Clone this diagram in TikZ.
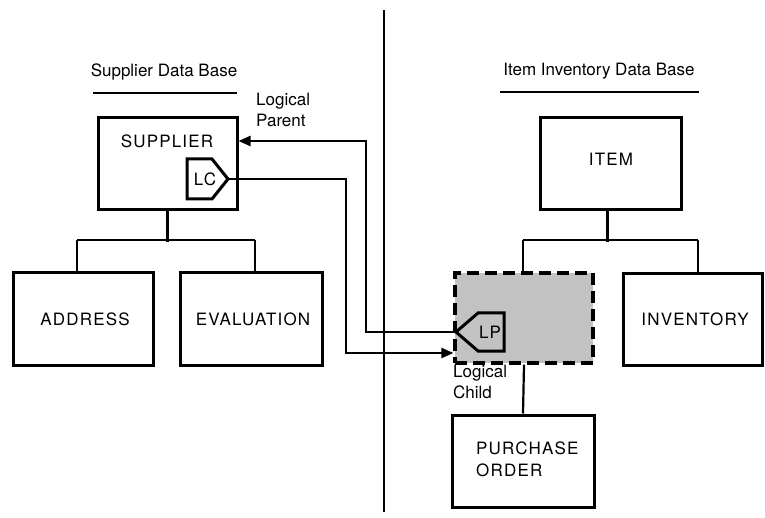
\documentclass[tikz,border=0pt]{standalone}
\usepackage{fontspec}
\setmainfont{TeX Gyre Heros}
\newfontfamily\capsface[LetterSpace=7]{TeX Gyre Heros}
\usetikzlibrary{arrows.meta}
\tikzset{
  seg/.style={draw, line width=3pt, inner sep=0pt},
  dashseg/.style={draw, line width=3.2pt, dash pattern=on 12pt off 6pt, fill=black!24, inner sep=0pt},
  link/.style={line width=2.2pt},
  ptr/.style={link, -{Triangle[length=12pt,width=10pt]}},
  lbl/.style={inner sep=0pt, font=\fontsize{17}{21}\selectfont},
  caps/.style={inner sep=0pt, font=\capsface\fontsize{17}{22}\selectfont},
  pent/.style={line width=3pt, line join=miter},
}
\begin{document}
\begin{tikzpicture}[x=1pt,y=-1pt]
  \useasboundingbox (0,0) rectangle (765,518);

  % divider between the two data bases
  \coordinate (divtop) at (384,10);
  \coordinate (divbot) at (384,512);
  \draw[line width=1.6pt] (divtop) -- (divbot);

  % titles
  \node[lbl] (suptitle) at (164,72) {Supplier Data Base};
  \coordinate (supulA) at (93,93);
  \coordinate (supulB) at (237,93);
  \draw[line width=1.4pt] (supulA) -- (supulB);
  \node[lbl] (itmtitle) at (599,71) {Item Inventory Data Base};
  \coordinate (itmulA) at (500,92);
  \coordinate (itmulB) at (699,92);
  \draw[line width=1.4pt] (itmulA) -- (itmulB);

  % supplier data base segments
  \node[seg, minimum width=139pt, minimum height=92pt] (supplier) at (167.5,163.5) {};
  \node[caps] (suptext) at (167,141) {SUPPLIER};
  \node[seg, minimum width=140pt, minimum height=92pt] (address) at (83,319) {};
  \node[caps] at (85,319) {ADDRESS};
  \node[seg, minimum width=142pt, minimum height=92pt] (evaluation) at (251,319) {};
  \node[caps] at (253,319) {EVALUATION};

  % item inventory data base segments
  \node[seg, minimum width=141pt, minimum height=92pt] (item) at (610.5,163.5) {};
  \node[caps] at (611,159) {ITEM};
  \node[dashseg, minimum width=138pt, minimum height=90pt] (lchild) at (524,318) {};
  \node[seg, minimum width=139pt, minimum height=92pt] (inventory) at (692.5,319.5) {};
  \node[caps] at (695,319) {INVENTORY};
  \node[seg, minimum width=142pt, minimum height=92pt] (purchase) at (523,461) {};
  \node[caps, align=left, anchor=west] (potext) at (476,459) {PURCHASE\\ORDER};

  % hierarchy lines
  \draw[link] (supplier.south) -- ++(0,31) coordinate (lsplit)
              (77,240) -- (255,240)
              (77,240) -- (77,273)
              (255,240) -- (255,273);
  \draw[link] (item.south) ++(-3,0) -- ++(0,31)
              (523,240) -- (698,240)
              (523,240) -- (lchild.north -| 523,0)
              (698,240) -- (inventory.north -| 698,0);
  \draw[link] (lchild.south) -- (purchase.north);

  % logical child pointer inside SUPPLIER
  \coordinate (lctip) at (228,179);
  \draw[pent] (187,159) -- (212,159) -- (lctip) -- (212,199) -- (187,199) -- cycle;
  \node[caps] (lc) at (205,179) {LC};

  % logical parent pointer inside the logical child
  \coordinate (lptip) at (456,332);
  \draw[pent] (504,313) -- (478,313) -- (lptip) -- (478,351) -- (504,351) -- cycle;
  \node[caps] (lp) at (490,332) {LP};

  % connectors between the data bases
  \coordinate (supright) at (supplier.east |- 0,141);
  \draw[ptr] (lptip) -- (366,332) -- (366,141) -- (supright);
  \coordinate (lcleft) at (lchild.west |- 0,353);
  \draw[ptr] (lctip) -- (346,179) -- (346,353) -- (lcleft);

  % pointer labels
  \node[lbl, align=left, anchor=north west] (lparent) at (256,93) {Logical\\Parent};
  \node[lbl, align=left, anchor=north west] (lchildlbl) at (453,365) {Logical\\Child};
\end{tikzpicture}
\end{document}
